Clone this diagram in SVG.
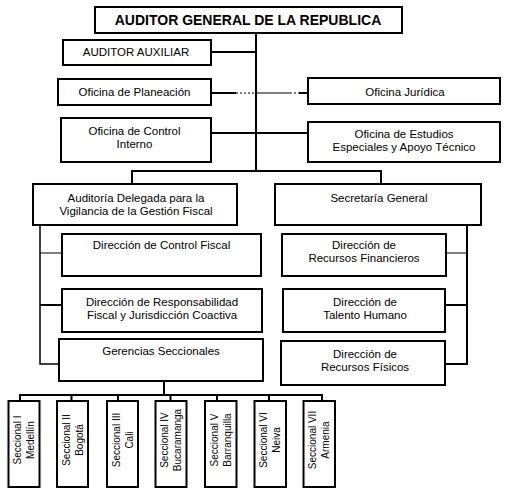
<svg xmlns="http://www.w3.org/2000/svg" width="509" height="492" viewBox="0 0 509 492">
<style>
.b{fill:#fff;stroke:#000;stroke-width:2}
.t{font-family:"Liberation Sans",Arial,sans-serif;font-size:11.5px;fill:#000;text-anchor:middle}
.tt{font-family:"Liberation Sans",Arial,sans-serif;font-size:14px;font-weight:bold;fill:#000;text-anchor:middle}
.s{font-family:"Liberation Sans",Arial,sans-serif;font-size:10px;fill:#000;text-anchor:middle}
.c{fill:none;stroke:#000;stroke-width:2}
.c1{fill:none;stroke:#000;stroke-width:1}
.d{fill:none;stroke:#000;stroke-width:1;stroke-dasharray:2 2}
</style>
<rect width="509" height="492" fill="#fff"/>
<g id="connectors">
<path class="c" d="M256 33V171"/>
<path class="c" d="M211 52H256"/>
<path class="c" d="M211 93H236"/>
<path class="d" d="M236 93H255"/>
<path class="c1" d="M255 93H290"/>
<path class="d" d="M290 93H299"/>
<path class="c" d="M299 93H308"/>
<path class="c" d="M211 133H308"/>
<path class="c" d="M132 184V171H381V184"/>
<path class="c" d="M40 225V364H59" style="stroke-width:1.5"/>
<path class="c1" d="M40 253H62"/>
<path class="c" d="M40 305H62"/>
<path class="c" d="M467 225V364H445"/>
<path class="c1" d="M446 253H467"/>
<path class="c" d="M445 305H467"/>
<path class="c" d="M164 381V395"/>
<path class="c" d="M20 401V395H322V401"/>
<path class="c" d="M71.5 395V401M118 395V401M170.5 395V401M217 395V401M269 395V401"/>
</g>
<g id="n-auditor-general"><rect class="b" x="95" y="7" width="307" height="26"/><text class="tt" x="248" y="25">AUDITOR GENERAL DE LA REPUBLICA</text></g>
<g id="n-auditor-auxiliar"><rect class="b" x="63" y="40" width="148" height="25"/><text class="t" x="136" y="55.5">AUDITOR AUXILIAR</text></g>
<g id="n-planeacion"><rect class="b" x="58" y="79" width="153" height="26"/><text class="t" x="134.5" y="95.5">Oficina de Planeación</text></g>
<g id="n-juridica"><rect class="b" x="308" y="78" width="192" height="26"/><text class="t" x="405" y="95.5">Oficina Jurídica</text></g>
<g id="n-control-interno"><rect class="b" x="61" y="118" width="150" height="44"/><text class="t" x="134.5" y="134.5">Oficina de Control</text><text class="t" x="134.5" y="147.5">Interno</text></g>
<g id="n-estudios"><rect class="b" x="308" y="122" width="192" height="40"/><text class="t" x="404" y="138">Oficina de Estudios</text><text class="t" x="404" y="151">Especiales y Apoyo Técnico</text></g>
<g id="n-auditoria-delegada"><rect class="b" x="33" y="184" width="204" height="41"/><text class="t" x="136" y="202">Auditoría Delegada para la</text><text class="t" x="136" y="215">Vigilancia de la Gestión Fiscal</text></g>
<g id="n-secretaria"><rect class="b" x="275" y="184" width="206" height="41"/><text class="t" x="379" y="201.5">Secretaría General</text></g>
<g id="n-control-fiscal"><rect class="b" x="62" y="234" width="199" height="42"/><text class="t" x="161.5" y="249">Dirección de Control Fiscal</text></g>
<g id="n-responsabilidad"><rect class="b" x="62" y="289" width="200" height="43"/><text class="t" x="162" y="305.5">Dirección de Responsabilidad</text><text class="t" x="162" y="318.5">Fiscal y Jurisdicción Coactiva</text></g>
<g id="n-gerencias"><rect class="b" x="59" y="339" width="204" height="42"/><text class="t" x="161" y="355">Gerencias Seccionales</text></g>
<g id="n-financieros"><rect class="b" x="282" y="234" width="164" height="42"/><text class="t" x="364" y="248.5">Dirección de</text><text class="t" x="364" y="261.5">Recursos Financieros</text></g>
<g id="n-talento"><rect class="b" x="283" y="289" width="162" height="43"/><text class="t" x="365" y="305.5">Dirección de</text><text class="t" x="365" y="318.5">Talento Humano</text></g>
<g id="n-fisicos"><rect class="b" x="281" y="341" width="164" height="44"/><text class="t" x="365" y="358">Dirección de</text><text class="t" x="365" y="371">Recursos Físicos</text></g>
<g id="n-sec1"><rect class="b" x="8.5" y="401" width="31" height="86"/><text class="s" transform="translate(21,440) rotate(-90)"><tspan x="0" y="0">Seccional I</tspan><tspan x="0" y="13">Medellín</tspan></text></g>
<g id="n-sec2"><rect class="b" x="57" y="401" width="31" height="86"/><text class="s" transform="translate(69.5,440) rotate(-90)"><tspan x="0" y="0">Seccional II</tspan><tspan x="0" y="13">Bogotá</tspan></text></g>
<g id="n-sec3"><rect class="b" x="107" y="401" width="31" height="86"/><text class="s" transform="translate(119.5,440) rotate(-90)"><tspan x="0" y="0">Seccional III</tspan><tspan x="0" y="13">Cali</tspan></text></g>
<g id="n-sec4"><rect class="b" x="155.5" y="401" width="31" height="86"/><text class="s" transform="translate(168,440) rotate(-90)"><tspan x="0" y="0">Seccional IV</tspan><tspan x="0" y="13">Bucaramanga</tspan></text></g>
<g id="n-sec5"><rect class="b" x="205" y="401" width="31.5" height="86"/><text class="s" transform="translate(217.5,440) rotate(-90)"><tspan x="0" y="0">Seccional V</tspan><tspan x="0" y="13">Barranquilla</tspan></text></g>
<g id="n-sec6"><rect class="b" x="254.5" y="401" width="31.5" height="86"/><text class="s" transform="translate(267,440) rotate(-90)"><tspan x="0" y="0">Seccional VI</tspan><tspan x="0" y="13">Neiva</tspan></text></g>
<g id="n-sec7"><rect class="b" x="303.5" y="401" width="31.5" height="86"/><text class="s" transform="translate(316,440) rotate(-90)"><tspan x="0" y="0">Seccional VII</tspan><tspan x="0" y="13">Armenia</tspan></text></g>
</svg>
